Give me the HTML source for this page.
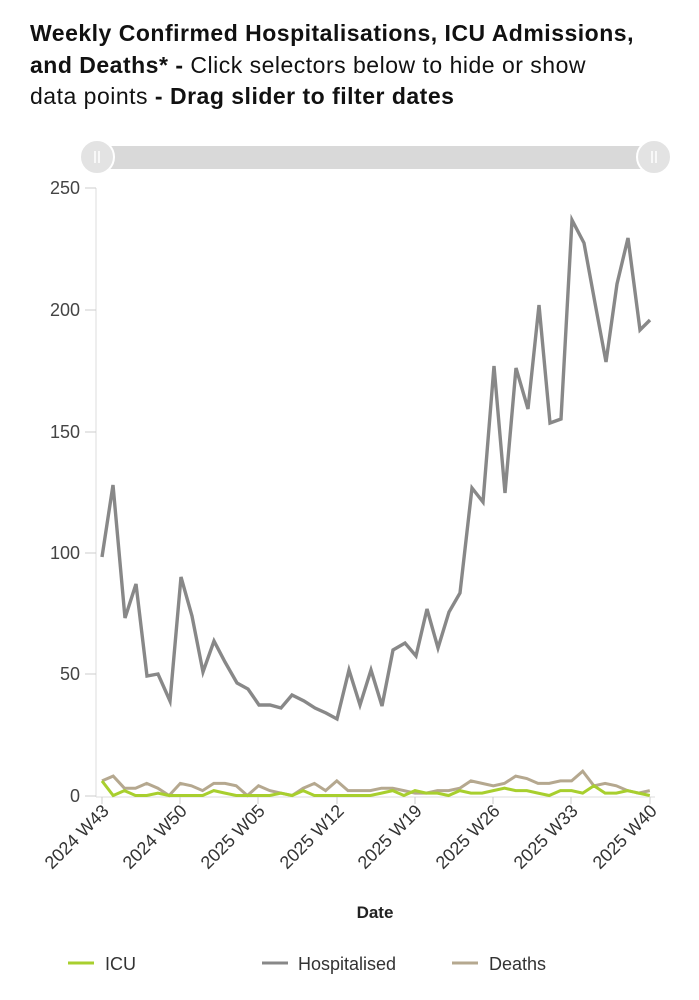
<!DOCTYPE html>
<html><head><style>
body{margin:0;background:#fff;width:699px;height:1000px;overflow:hidden;font-family:"Liberation Sans",sans-serif}
.t{position:absolute;left:30px;top:18px;font-size:23px;line-height:31.5px;color:#111;width:680px;white-space:nowrap;letter-spacing:0.5px}
</style></head><body>
<div class="t"><b>Weekly Confirmed Hospitalisations, ICU Admissions,</b><br><b>and Deaths* -</b> Click selectors below to hide or show<br>data points <b>- Drag slider to filter dates</b></div>
<svg width="699" height="1000" style="position:absolute;left:0;top:0" font-family="Liberation Sans, sans-serif">
<rect x="85" y="146" width="580" height="23" rx="11" fill="#d9d9d9"/>
<circle cx="97" cy="157" r="17" fill="#e3e3e3" stroke="#fff" stroke-width="2"/>
<circle cx="654" cy="157" r="17" fill="#e3e3e3" stroke="#fff" stroke-width="2"/>
<path d="M95 151v12M99 151v12M652 151v12M656 151v12" stroke="#fff" stroke-width="1.5"/>
<line x1="96" y1="188" x2="96" y2="797" stroke="#ddd"/>
<line x1="96" y1="797" x2="655" y2="797" stroke="#ddd"/>
<g font-size="18" fill="#444" text-anchor="end">
<text x="80" y="194">250</text><text x="80" y="316">200</text><text x="80" y="438">150</text><text x="80" y="559">100</text><text x="80" y="680">50</text><text x="80" y="802">0</text>
</g>
<g stroke="#ccc"><path d="M85 188h11M85 310h11M85 432h11M85 553h11M85 674h11M85 796h11"/>
<path d="M102 797v7M180 797v7M258 797v7M337 797v7M415 797v7M493 797v7M571 797v7M650 797v7"/></g>
<g font-size="18" fill="#333" text-anchor="end">
<text transform="translate(110,812) rotate(-45)">2024 W43</text>
<text transform="translate(188,812) rotate(-45)">2024 W50</text>
<text transform="translate(266,812) rotate(-45)">2025 W05</text>
<text transform="translate(345,812) rotate(-45)">2025 W12</text>
<text transform="translate(423,812) rotate(-45)">2025 W19</text>
<text transform="translate(501,812) rotate(-45)">2025 W26</text>
<text transform="translate(579,812) rotate(-45)">2025 W33</text>
<text transform="translate(658,812) rotate(-45)">2025 W40</text>
</g>
<text x="375" y="918" font-size="17" font-weight="bold" fill="#222" text-anchor="middle">Date</text>
<polyline fill="none" stroke="#888" stroke-width="3.4" points="102,557 113,485 125,618 136,584 147,676 158,674 170,701 181,577 192,616 203,672 214,641 225,662 237,683 248,689 259,705 270,705 281,708 292,695 304,701 315,708 326,713 337,719 349,670 360,705 371,670 382,706 393,650 405,643 416,656 427,609 438,648 449,612 460,593 472,488 483,502 494,366 505,493 516,368 528,409 539,305 550,423 561,419 572,220 584,243 595,303 606,362 617,284 628,238 640,330 650,320"/>
<polyline id="d" fill="none" stroke="#b5a88f" stroke-width="3"/>
<polyline id="i" fill="none" stroke="#a8cf2e" stroke-width="3"/>
<g font-size="18" fill="#333">
<line x1="68" y1="963" x2="94" y2="963" stroke="#a8cf2e" stroke-width="3"/><text x="105" y="970">ICU</text>
<line x1="262" y1="963" x2="288" y2="963" stroke="#888" stroke-width="3"/><text x="298" y="970">Hospitalised</text>
<line x1="452" y1="963" x2="478" y2="963" stroke="#b5a88f" stroke-width="3"/><text x="489" y="970">Deaths</text>
</g>
</svg>
<script>
var D=[6,8,3,3,5,3,0,5,4,2,5,5,4,0,4,2,1,0,3,5,2,6,2,2,2,3,3,2,1,1,2,2,3,6,5,4,5,8,7,5,5,6,6,10,4,5,4,2,1,2];
var I=[6,0,2,0,0,1,0,0,0,0,2,1,0,0,0,0,1,0,2,0,0,0,0,0,0,1,2,0,2,1,1,0,2,1,1,2,3,2,2,1,0,2,2,1,4,1,1,2,1,0];
function p(a){return a.map(function(v,k){return (102+k*11.18).toFixed(1)+","+(795.5-2.43*v).toFixed(1)}).join(" ")}
document.getElementById("d").setAttribute("points",p(D));
document.getElementById("i").setAttribute("points",p(I));
</script>
</body></html>
